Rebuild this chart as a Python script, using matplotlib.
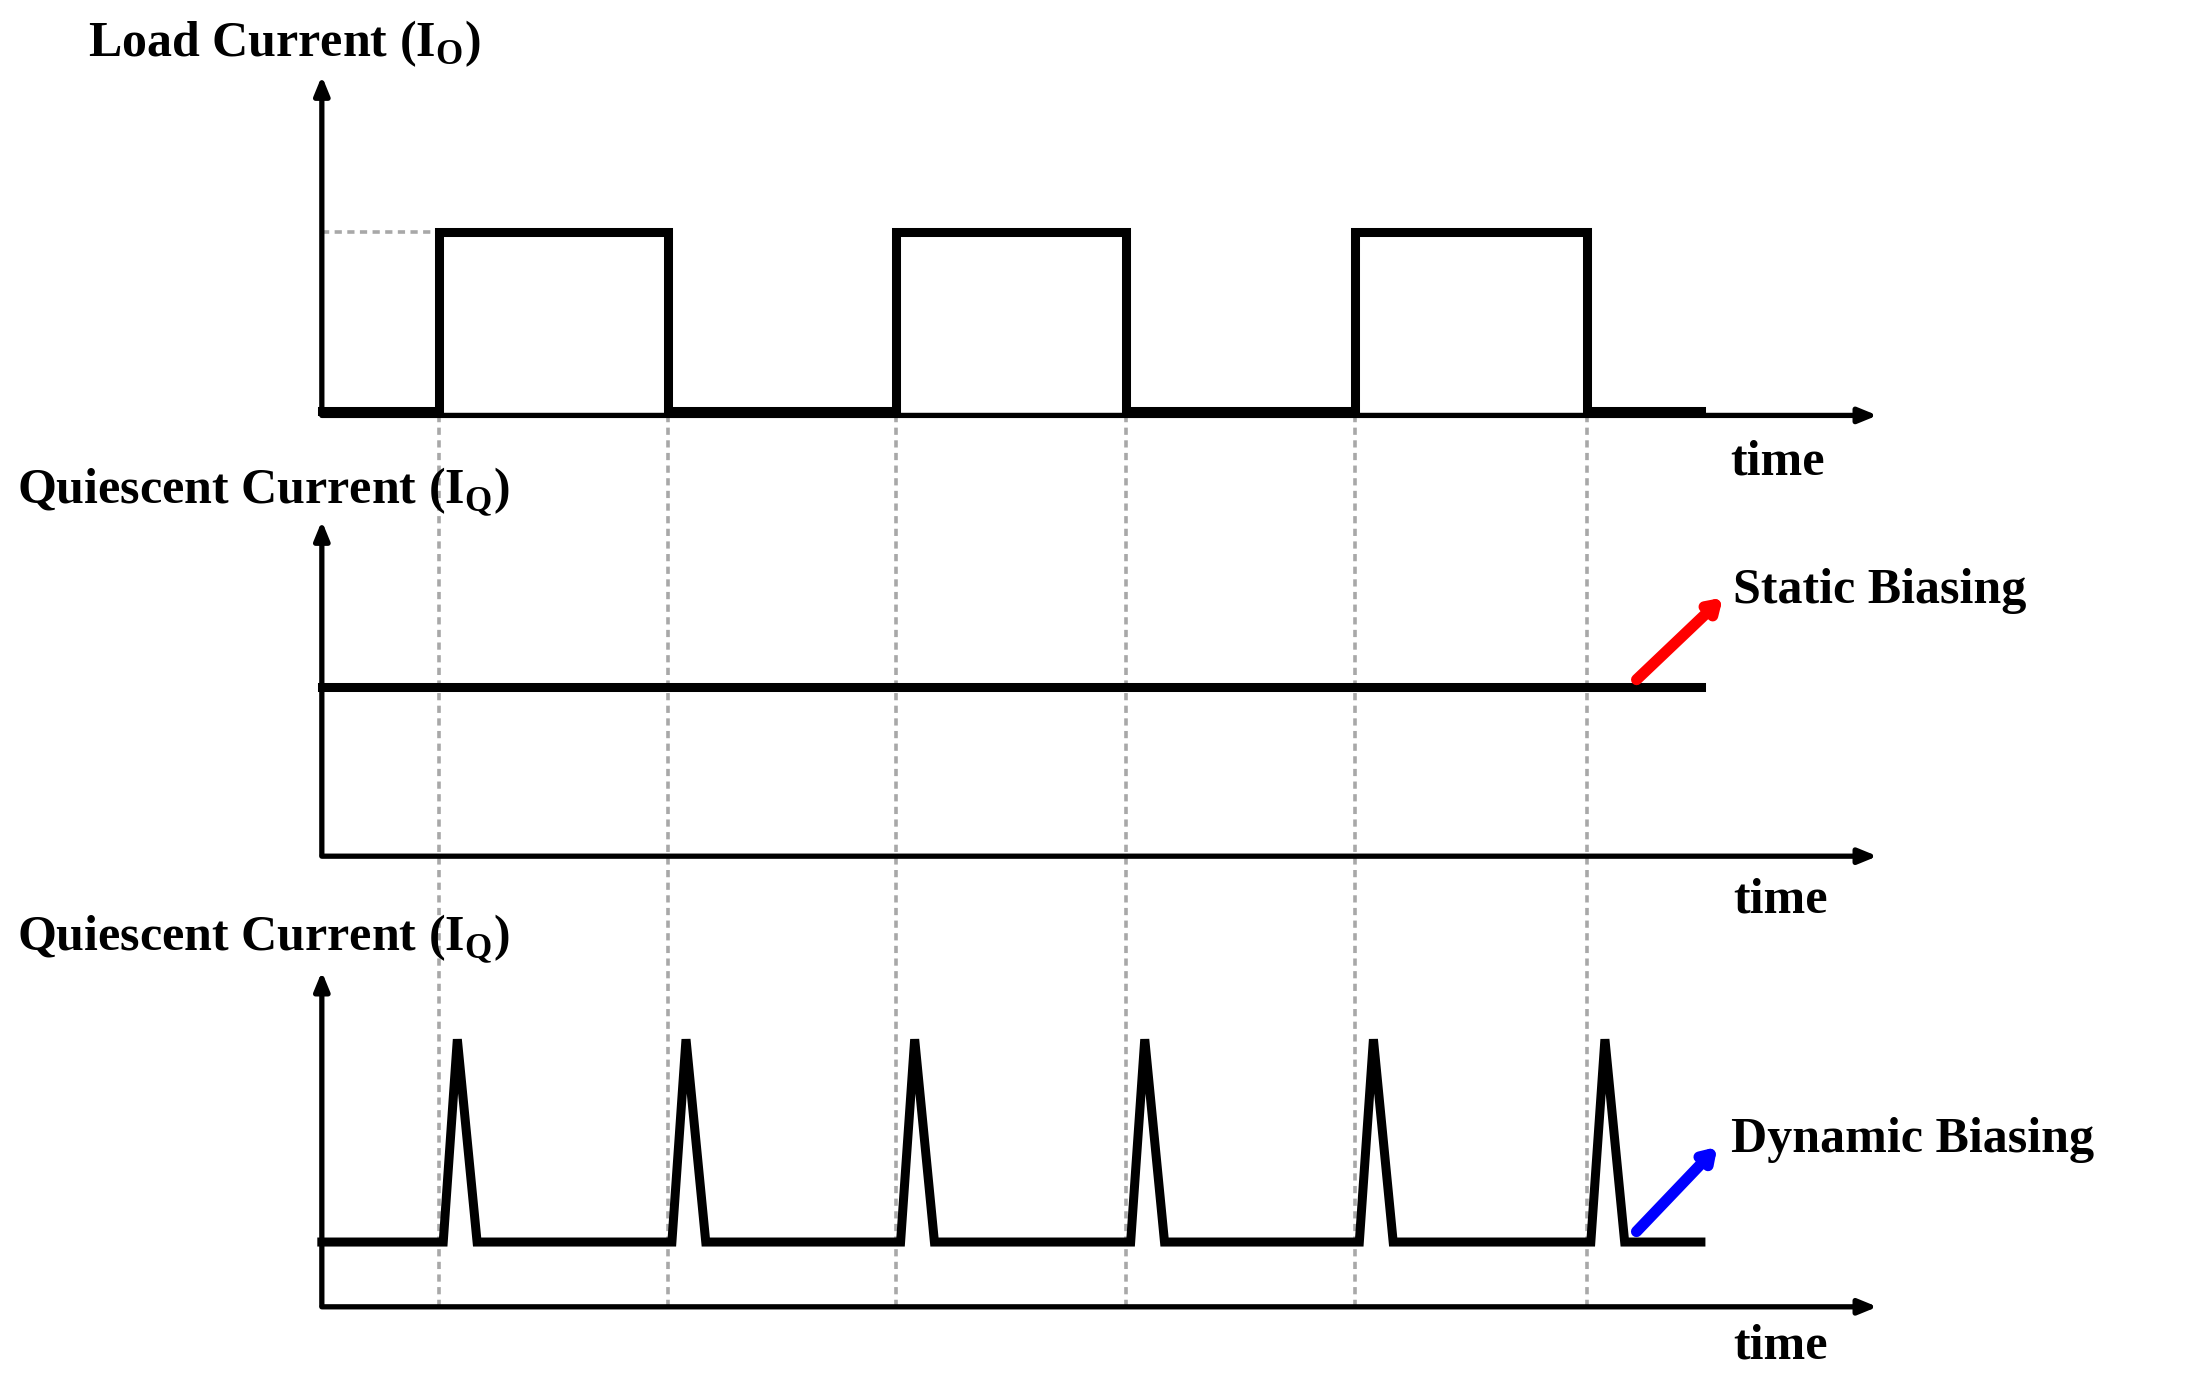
import numpy as np
import matplotlib.pyplot as plt

plt.rcParams['font.family'] = ['Liberation Serif', 'DejaVu Serif']
plt.rcParams['mathtext.fontset'] = 'custom'
plt.rcParams['mathtext.rm'] = 'Liberation Serif:bold'

# edges of the load current pulses (x, in picture units)
edges = [311, 473, 635, 798, 960, 1124]
x_start, x_end = 228, 1205
# spike shape offsets relative to each edge
spike_dx = [3, 13, 27]

fig = plt.figure(figsize=(22.02, 13.73), dpi=100)
ax = fig.add_axes([0, 0, 1, 1])
ax.set_xlim(0, 1560)
ax.set_ylim(975, 0)
ax.axis('off')

lw_axis = 3.8
lw_wave = 6.5

def draw_axes(y0, ytop):
    ax.annotate('', xy=(1332, y0), xytext=(x_start - 2, y0),
                arrowprops=dict(arrowstyle='-|>,head_length=1.1,head_width=0.45', lw=lw_axis, color='black'))
    ax.annotate('', xy=(x_start, ytop), xytext=(x_start, y0 + 1),
                arrowprops=dict(arrowstyle='-|>,head_length=1.1,head_width=0.45', lw=lw_axis, color='black'))

# dashed guides
for e in edges:
    ax.plot([e, e], [295, 928], color='#a8a8a8', lw=2.6, ls=(0, (2, 1.5)))
ax.plot([x_start, edges[0]], [165, 165], color='#a8a8a8', lw=2.6, ls=(0, (2, 1.5)))

# top panel
draw_axes(295, 52)
lo, hi = 292, 165
xs, ys = [x_start], [lo]
for i, e in enumerate(edges):
    a, b = (lo, hi) if i % 2 == 0 else (hi, lo)
    xs += [e, e]
    ys += [a, b]
xs.append(x_end); ys.append(lo)
ax.plot(xs, ys, color='black', lw=lw_wave, solid_joinstyle='miter')

# middle panel
draw_axes(608, 368)
ax.plot([x_start, x_end], [488, 488], color='black', lw=lw_wave)
ax.annotate('', xy=(1222, 423), xytext=(1158, 484),
            arrowprops=dict(arrowstyle='-|>,head_length=0.7,head_width=0.45', lw=8, color='red'))

# bottom panel
draw_axes(928, 688)
base, peak = 882, 738
xs, ys = [x_start], [base]
for e in edges:
    xs += [e + spike_dx[0], e + spike_dx[1], e + spike_dx[2]]
    ys += [base, peak, base]
xs.append(x_end); ys.append(base)
ax.plot(xs, ys, color='black', lw=lw_wave, solid_joinstyle='miter')
ax.annotate('', xy=(1218, 813), xytext=(1158, 876),
            arrowprops=dict(arrowstyle='-|>,head_length=0.7,head_width=0.45', lw=8, color='blue'))

fs = 36
kw = dict(fontsize=fs, fontweight='bold', va='baseline')
ax.text(62, 40, r'Load Current (I$_\mathregular{O}$)', **kw)
ax.text(12, 357, r'Quiescent Current (I$_\mathregular{Q}$)', **kw)
ax.text(12, 675, r'Quiescent Current (I$_\mathregular{Q}$)', **kw)
ax.text(1226, 337, 'time', **kw)
ax.text(1228, 648, 'time', **kw)
ax.text(1228, 965, 'time', **kw)
ax.text(1228, 428, 'Static Biasing', **kw)
ax.text(1226, 818, 'Dynamic Biasing', **kw)

fig.savefig('out.png', dpi=100)
